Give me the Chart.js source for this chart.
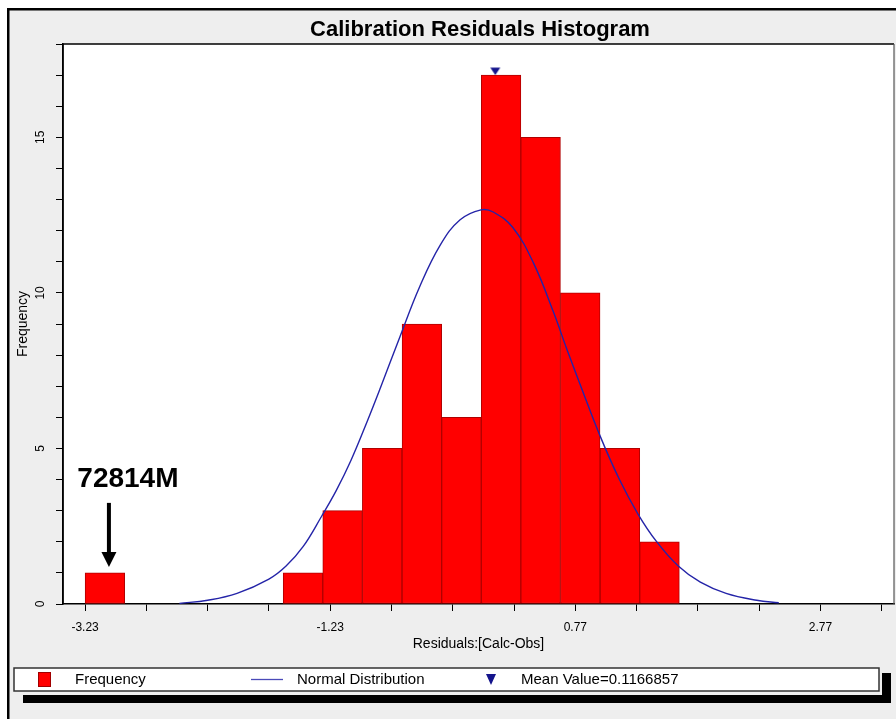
<!DOCTYPE html>
<html><head><meta charset="utf-8">
<script src="https://cdn.jsdelivr.net/npm/chart.js@4.4.1/dist/chart.umd.min.js"></script>
<style>html,body{margin:0;padding:0;background:#fff;}#wrap{width:896px;height:719px;}</style>
</head><body><div id="wrap"><canvas id="c" width="896" height="719"></canvas></div>
<script>
// ---------- DATA ----------
const chartTitle = 'Calibration Residuals Histogram';
const xAxisTitle = 'Residuals:[Calc-Obs]';
const yAxisTitle = 'Frequency';
const binCenters = [-3.068, -2.745, -2.422, -2.099, -1.775, -1.452, -1.129, -0.806, -0.482, -0.159, 0.164, 0.487, 0.810, 1.134, 1.457];
const frequencies = [1, 0, 0, 0, 0, 1, 3, 5, 9, 6, 17, 15, 10, 5, 2];
const normalX = [-2.46, -2.23, -1.99, -1.73, -1.59, -1.45, -1.30, -1.18, -1.06, -0.93, -0.82, -0.66, -0.50, -0.33, -0.17, 0.00, 0.10, 0.26, 0.43, 0.59, 0.70, 0.81, 0.97, 1.13, 1.28, 1.43, 1.61, 1.79, 2.00, 2.25, 2.43];
const normalY = [0.02, 0.12, 0.34, 0.80, 1.22, 1.85, 2.82, 3.65, 4.62, 5.85, 6.95, 8.6, 10.2, 11.55, 12.35, 12.67, 12.6, 12.1, 10.95, 9.4, 8.2, 7.05, 5.42, 4.0, 2.9, 2.02, 1.22, 0.70, 0.34, 0.12, 0.04];
const meanValue = 0.1166857;
const xTickValues = [-3.23, -2.73, -2.23, -1.73, -1.23, -0.73, -0.23, 0.27, 0.77, 1.27, 1.77, 2.27, 2.77, 3.27];
const xTickLabels = ['-3.23', '', '', '', '-1.23', '', '', '', '0.77', '', '', '', '2.77', ''];
const yLabelEvery = 5;
const outlierLabel = '72814M';
const legendLabels = ['Frequency', 'Normal Distribution', 'Mean Value=0.1166857'];

// ---------- STYLE ----------
const FONT = "'Liberation Sans', Arial, sans-serif";
Chart.defaults.font.family = FONT;
Chart.defaults.color = '#000';

// triangle marker image (pointing down, drawn in upper half so tip sits on the bar)
const tri = document.createElement('canvas');
tri.width = 14; tri.height = 30;
(function(){ const g = tri.getContext('2d'); g.fillStyle = '#14148c';
  g.beginPath(); g.moveTo(2, 7.5); g.lineTo(12, 7.5); g.lineTo(7, 15); g.closePath(); g.fill(); })();

const deco = {
  id: 'deco',
  beforeDraw(chart) {
    const c = chart.ctx, a = chart.chartArea;
    c.save();
    c.fillStyle = '#fff'; c.fillRect(0, 0, 896, 719);
    c.fillStyle = '#eeeeee'; c.fillRect(8, 9, 888, 710);
    c.fillStyle = '#000'; c.fillRect(7, 8, 889, 2.5); c.fillRect(7, 8, 2.5, 711);
    c.fillStyle = '#fff'; c.fillRect(a.left, a.top, a.right - a.left, a.bottom - a.top);
    c.fillStyle = '#000'; c.font = 'bold 22px ' + FONT; c.textAlign = 'center'; c.textBaseline = 'middle';
    c.fillText(chartTitle, 480, 30);
    c.restore();
  },
  afterDatasetsDraw(chart) {
    const c = chart.ctx, a = chart.chartArea, xs = chart.scales.x, ys = chart.scales.y;
    c.save();
    // outlier annotation
    const bx = xs.getPixelForValue(binCenters[0]);
    const by = ys.getPixelForValue(frequencies[0]);
    const ax = bx + 4;
    c.strokeStyle = '#000'; c.lineWidth = 4;
    c.beginPath(); c.moveTo(ax, by - 70); c.lineTo(ax, by - 18); c.stroke();
    c.fillStyle = '#000';
    c.beginPath(); c.moveTo(ax - 7.5, by - 21); c.lineTo(ax + 7.5, by - 21); c.lineTo(ax, by - 6); c.closePath(); c.fill();
    c.font = 'bold 28px ' + FONT; c.textAlign = 'center'; c.textBaseline = 'middle';
    c.fillText(outlierLabel, bx + 23, by - 94);
    // plot frame
    c.lineWidth = 1.5; c.strokeStyle = '#000';
    c.beginPath(); c.moveTo(a.left, a.bottom); c.lineTo(a.left, a.top); c.lineTo(a.right, a.top); c.stroke();
    c.strokeStyle = '#555'; c.lineWidth = 1.2;
    c.beginPath(); c.moveTo(a.right, a.top); c.lineTo(a.right, a.bottom); c.stroke();
    c.restore();
  },
  afterDraw(chart) {
    const c = chart.ctx;
    c.save();
    // legend shadow
    c.fillStyle = '#000'; c.fillRect(23, 695, 868, 8); c.fillRect(882, 673, 9, 30);
    // legend box
    c.fillStyle = '#fff'; c.fillRect(14, 668, 865, 23);
    c.strokeStyle = '#333'; c.lineWidth = 1.5; c.strokeRect(14, 668, 865, 23);
    const cy = 679.5;
    c.fillStyle = '#ff0000'; c.fillRect(38, 672, 13, 15);
    c.strokeStyle = '#a00000'; c.lineWidth = 1; c.strokeRect(38.5, 672.5, 12, 14);
    c.strokeStyle = '#4a4ab8'; c.lineWidth = 1.3;
    c.beginPath(); c.moveTo(251, cy); c.lineTo(283, cy); c.stroke();
    c.fillStyle = '#14148c';
    c.beginPath(); c.moveTo(486, 674); c.lineTo(496, 674); c.lineTo(491, 685); c.closePath(); c.fill();
    c.fillStyle = '#000'; c.font = '15px ' + FONT; c.textAlign = 'left'; c.textBaseline = 'middle';
    c.fillText(legendLabels[0], 75, cy);
    c.fillText(legendLabels[1], 297, cy);
    c.fillText(legendLabels[2], 521, cy);
    c.restore();
  }
};

new Chart(document.getElementById('c'), {
  type: 'bar',
  data: {
    datasets: [
      { type: 'line', label: legendLabels[1], data: normalX.map((x, i) => ({ x, y: normalY[i] })),
        borderColor: '#2424a8', borderWidth: 1.4, pointRadius: 0, tension: 0.4, fill: false, order: 0 },
      { type: 'line', label: legendLabels[2], data: [{ x: meanValue, y: Math.max(...frequencies) }],
        showLine: false, pointStyle: tri, pointRadius: 6, order: 0 },
      { type: 'bar', label: legendLabels[0], data: binCenters.map((x, i) => ({ x, y: frequencies[i] })),
        backgroundColor: '#ff0000', borderColor: '#b00000', borderWidth: 1, borderSkipped: false,
        barPercentage: 1, categoryPercentage: 1, order: 1 }
    ]
  },
  options: {
    responsive: false, animation: false, events: [],
    layout: { autoPadding: false, padding: { top: 44, left: 0, right: 2, bottom: 0 } },
    plugins: { legend: { display: false }, tooltip: { enabled: false } },
    scales: {
      x: {
        type: 'linear', min: -3.41, max: 3.37, offset: false,
        grid: { drawOnChartArea: false, drawTicks: true, tickLength: 7, color: '#000', offset: false },
        border: { color: '#000', width: 1.5 },
        afterBuildTicks: s => { s.ticks = xTickValues.map(v => ({ value: v })); },
        ticks: { autoSkip: false, minRotation: 0, maxRotation: 0, padding: 9, font: { size: 12 },
          callback: (v, i) => xTickLabels[i] },
        title: { display: true, text: xAxisTitle, font: { size: 14 }, padding: { top: 0, bottom: 66 } },
        afterFit: s => { s.height = 115; s.paddingLeft = 0; s.paddingRight = 0; }
      },
      y: {
        min: 0, max: 18,
        grid: { drawOnChartArea: false, drawTicks: true, tickLength: 7, color: '#000' },
        border: { color: '#000', width: 1.5 },
        ticks: { stepSize: 1, autoSkip: false, minRotation: 90, maxRotation: 90, crossAlign: 'center', padding: 9,
          font: { size: 12 }, callback: v => (v % yLabelEvery === 0 ? String(v) : '') },
        title: { display: true, text: yAxisTitle, font: { size: 14 }, padding: { top: 15, bottom: 0 } },
        afterFit: s => { s.width = 63; s.paddingTop = 0; s.paddingBottom = 0; }
      }
    }
  },
  plugins: [deco]
});
</script></body></html>
